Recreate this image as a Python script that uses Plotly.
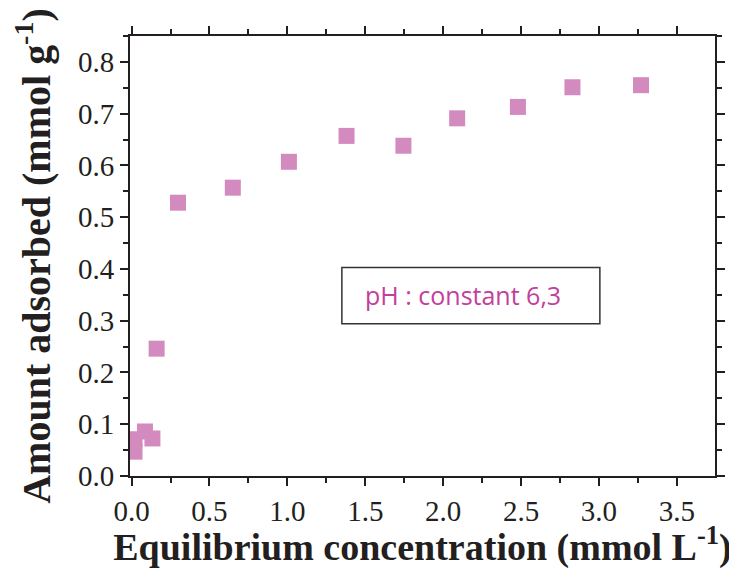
import plotly.graph_objects as go

# Data
conc = [0.019, 0.019, 0.086, 0.134, 0.161, 0.298, 0.65, 1.01, 1.38, 1.745, 2.09, 2.48, 2.83, 3.27]
adsorbed = [0.047, 0.071, 0.086, 0.0725, 0.246, 0.528, 0.557, 0.607, 0.657, 0.638, 0.691, 0.713, 0.751, 0.755]

x_ticks = [0.0, 0.5, 1.0, 1.5, 2.0, 2.5, 3.0, 3.5]
y_ticks = [0.0, 0.1, 0.2, 0.3, 0.4, 0.5, 0.6, 0.7, 0.8]

marker_color = "#D38BBF"
axis_color = "#231F20"
serif = "Liberation Serif"

fig = go.Figure()
fig.add_trace(go.Scatter(
    x=conc, y=adsorbed, mode="markers",
    marker=dict(symbol="square", size=16, color=marker_color, line=dict(width=0)),
    showlegend=False,
))

axis_common = dict(
    showline=True, linecolor=axis_color, linewidth=2,
    mirror="allticks", ticks="outside", ticklen=8, tickwidth=1.5, tickcolor=axis_color,
    showgrid=False, zeroline=False,
    tickfont=dict(family=serif, size=29, color=axis_color),
    minor=dict(ticks="outside", ticklen=5, tickwidth=1.5, tickcolor=axis_color, showgrid=False),
)

fig.update_xaxes(
    range=[-0.01, 3.745], tickvals=x_ticks, ticktext=[f"{v:.1f}" for v in x_ticks],
    minor_dtick=0.25,
    title=dict(text="<b>Equilibrium concentration (mmol L<sup>-1</sup>)</b>",
               font=dict(family=serif, size=38, color=axis_color), standoff=4),
    **axis_common,
)
fig.update_yaxes(
    range=[0, 0.85], tickvals=y_ticks, ticktext=[f"{v:.1f}" for v in y_ticks],
    minor_dtick=0.05,
    title=dict(text="<b>Amount adsorbed (mmol g<sup>-1</sup>)</b>",
               font=dict(family=serif, size=40, color=axis_color), standoff=15),
    **axis_common,
)

# text box
fig.add_shape(type="rect", xref="x", yref="y", x0=1.35, x1=3.006, y0=0.294, y1=0.403,
              line=dict(color="#333333", width=1.5), fillcolor="white", layer="below")
fig.add_annotation(
    x=1.484, y=0.349, xref="x", yref="y", showarrow=False,
    text="pH : constant 6,3", xanchor="left", yanchor="middle",
    font=dict(family="Open Sans, Lato, sans-serif", size=25, color="#C2409C"),
)

fig.update_layout(
    width=729, height=561,
    margin=dict(l=122, r=18, t=28, b=91),
    plot_bgcolor="white", paper_bgcolor="white",
)

fig.write_html("out.html")
